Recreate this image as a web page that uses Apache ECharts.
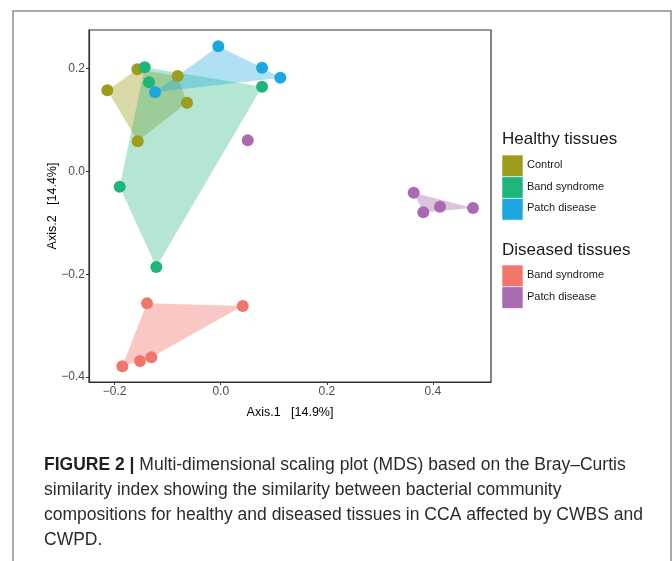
<!DOCTYPE html>
<html><head><meta charset="utf-8">
<script src="https://cdn.jsdelivr.net/npm/echarts@6/dist/echarts.min.js"></script>
<style>html,body{margin:0;padding:0;background:#fff}#c{width:672px;height:561px}</style>
</head><body><div id="c"></div>
<script>
// ---- data ----
const xTicks = [-0.2, 0, 0.2, 0.4];
const yTicks = [-0.4, -0.2, 0, 0.2];
const xTitle = 'Axis.1   [14.9%]';
const yTitle = 'Axis.2   [14.4%]';

const healthyControl = [[-0.2138,0.1574],[-0.1572,0.1983],[-0.0811,0.1852],[-0.0635,0.1333],[-0.1565,0.0583]];
const healthyBand    = [[-0.1433,0.2021],[-0.1352,0.1730],[0.0779,0.1644],[-0.1904,-0.0299],[-0.1214,-0.1860]];
const healthyPatch   = [[-0.0045,0.2430],[0.0779,0.2014],[0.1123,0.1819],[-0.1238,0.1535]];
const diseasedBand   = [[-0.1389,-0.2566],[0.0415,-0.2618],[-0.1308,-0.3615],[-0.1521,-0.3687],[-0.1855,-0.3790]];
const diseasedPatch  = [[0.3638,-0.0416],[0.4134,-0.0688],[0.3819,-0.0797],[0.4756,-0.0713]];
const diseasedPatchOutside = [[0.0509,0.0603]];

const legendTitles = ['Healthy tissues', 'Diseased tissues'];
const healthyNames = ['Control', 'Band syndrome', 'Patch disease'];
const diseasedNames = ['Band syndrome', 'Patch disease'];

const colControl = '#9E9C1B', colBand = '#1FB47A', colPatch = '#1DA7E0', colDBand = '#F1756B', colDPatch = '#A96AB2';

const groups = [
  {pts: healthyControl, color: colControl, op: 0.38},
  {pts: healthyBand, color: colBand, op: 0.33},
  {pts: healthyPatch, color: colPatch, op: 0.35},
  {pts: diseasedBand, color: colDBand, op: 0.4},
  {pts: diseasedPatch, color: colDPatch, op: 0.4}
];

function hull(points){
  const p = points.slice().sort((a,b)=>a[0]-b[0]||a[1]-b[1]);
  if (p.length < 3) return p;
  const cross=(o,a,b)=>(a[0]-o[0])*(b[1]-o[1])-(a[1]-o[1])*(b[0]-o[0]);
  const lo=[], up=[];
  for (const q of p){ while(lo.length>=2&&cross(lo[lo.length-2],lo[lo.length-1],q)<=0) lo.pop(); lo.push(q); }
  for (let i=p.length-1;i>=0;i--){ const q=p[i]; while(up.length>=2&&cross(up[up.length-2],up[up.length-1],q)<=0) up.pop(); up.push(q); }
  up.pop(); lo.pop();
  return lo.concat(up);
}

const FONT = '"Liberation Sans", Arial, sans-serif';
const fmt = v => { if (Math.abs(v) < 1e-9) return '0.0'; return (v<0?'\u2212':'') + Math.abs(v).toFixed(1); };

const series = [];
groups.forEach((g) => {
  series.push({
    type: 'custom', z: 1, silent: true,
    data: [[g.pts[0][0], g.pts[0][1]]],
    renderItem: function(params, api){
      const h = hull(g.pts).map(p => api.coord(p));
      return {type: 'polygon', shape: {points: h}, style: {fill: g.color, opacity: g.op}};
    }
  });
});
groups.forEach((g) => {
  series.push({type: 'scatter', z: 5, symbolSize: 12, data: g.pts, itemStyle: {color: g.color, opacity: 1}});
});
series.push({type: 'scatter', z: 5, symbolSize: 12, data: diseasedPatchOutside, itemStyle: {color: colDPatch, opacity: 1}});

// legend & frame graphics
const gfx = [];
gfx.push({type:'polyline', shape:{points:[[13,561],[13,11],[671,11],[671,561]]}, style:{stroke:'#8c8c8c', lineWidth:1.5, fill:null}});
function legendBlock(title, names, colors, titleY, boxY){
  gfx.push({type:'text', left:502, top:titleY-10, style:{text:title, font:'17px '+FONT, fill:'#1a1a1a'}});
  names.forEach((n,i)=>{
    gfx.push({type:'rect', shape:{x:502, y:boxY+i*21.7, width:21, height:21.7}, style:{fill:colors[i], stroke:'#ffffff', lineWidth:0.6}});
    gfx.push({type:'text', left:527, top:boxY+i*21.7+4.5, style:{text:n, font:'11px '+FONT, fill:'#1a1a1a'}});
  });
}
legendBlock(legendTitles[0], healthyNames, [colControl, colBand, colPatch], 141, 155);
legendBlock(legendTitles[1], diseasedNames, [colDBand, colDPatch], 252, 265);

const capSize = 17.5;
const capFont = capSize + 'px ' + FONT;
const capColor = '#2b2b2b';
gfx.push({type:'text', left:44, top:456, style:{
  text:'{b|FIGURE 2 |}{n| Multi-dimensional scaling plot (MDS) based on the Bray\u2013Curtis}',
  rich:{
    b:{fontWeight:'bold', fontSize:capSize, fontFamily:FONT, fill:'#231f20'},
    n:{fontSize:capSize, fontFamily:FONT, fill:capColor}
  }}});
const capLines = ['similarity index showing the similarity between bacterial community',
  'compositions for healthy and diseased tissues in CCA affected by CWBS and', 'CWPD.'];
capLines.forEach((t,i)=>gfx.push({type:'text', left:44, top:481+i*25, style:{text:t, font:capFont, fill:capColor}}));

const chart = echarts.init(document.getElementById('c'));
chart.setOption({
  animation: false,
  textStyle: {fontFamily: FONT},
  grid: {left: 89, right: 181, top: 30, bottom: 179, show: true, borderColor: '#333', borderWidth: 1.2, containLabel: false},
  xAxis: {
    type: 'value', min: -0.2483, max: 0.5095,
    name: xTitle, nameLocation: 'middle', nameGap: 24, nameMoveOverlap: false,
    nameTextStyle: {fontSize: 12.5, color: '#000', fontFamily: FONT},
    axisLine: {show: true, onZero: false, lineStyle: {color: '#333', width: 1.2}},
    axisTick: {show: true, length: 3, customValues: xTicks, lineStyle: {color: '#333'}},
    axisLabel: {customValues: xTicks, formatter: fmt, color: '#4d4d4d', fontSize: 12, margin: 4},
    splitLine: {show: false}
  },
  yAxis: {
    type: 'value', min: -0.4095, max: 0.2746,
    name: yTitle, nameLocation: 'middle', nameGap: 30, nameRotate: 90, nameMoveOverlap: false,
    nameTextStyle: {fontSize: 12.5, color: '#000', fontFamily: FONT},
    axisLine: {show: true, onZero: false, lineStyle: {color: '#333', width: 1.2}},
    axisTick: {show: true, length: 3, customValues: yTicks, lineStyle: {color: '#333'}},
    axisLabel: {customValues: yTicks, formatter: fmt, color: '#4d4d4d', fontSize: 12, margin: 4},
    splitLine: {show: false}
  },
  series: series,
  graphic: gfx
});
</script></body></html>
